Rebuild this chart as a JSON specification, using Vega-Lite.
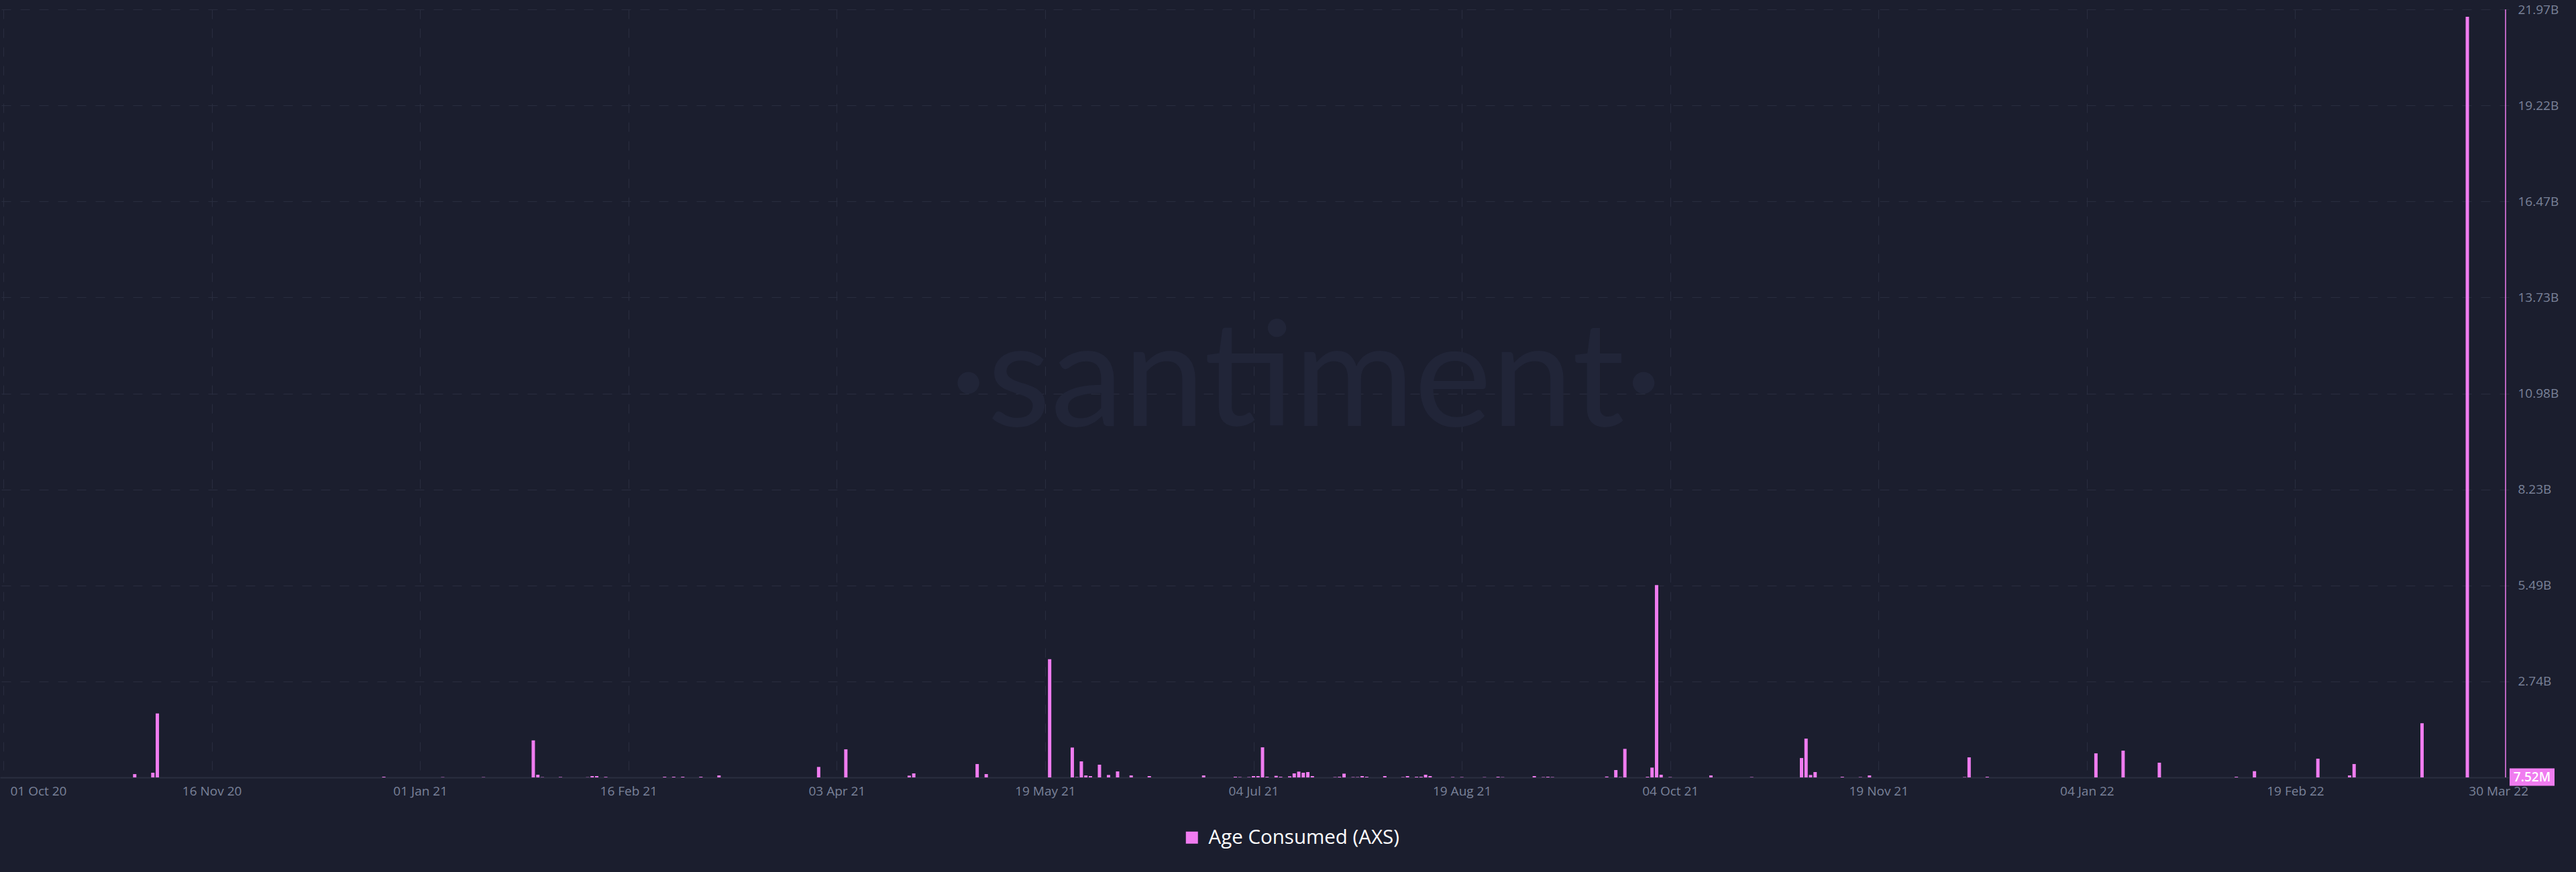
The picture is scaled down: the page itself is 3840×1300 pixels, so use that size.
{
  "$schema": "https://vega.github.io/schema/vega-lite/v6.json",
  "width": 3740,
  "height": 1145,
  "autosize": {"type": "none"},
  "padding": {"left": 0, "top": 14, "right": 100, "bottom": 141},
  "background": "#1b1e2e",
  "config": {"view": {"stroke": null}, "font": "Open Sans"},
  "datasets": {
    "bars": [
      {"date": "2020-10-30", "value": 95000000},
      {"date": "2020-11-03", "value": 134000000},
      {"date": "2020-11-04", "value": 1830000000},
      {"date": "2020-12-24", "value": 20000000},
      {"date": "2021-01-06", "value": 8000000},
      {"date": "2021-01-15", "value": 8000000},
      {"date": "2021-01-26", "value": 1060000000},
      {"date": "2021-01-27", "value": 77000000},
      {"date": "2021-01-28", "value": 8000000},
      {"date": "2021-02-01", "value": 12000000},
      {"date": "2021-02-07", "value": 6000000},
      {"date": "2021-02-08", "value": 38000000},
      {"date": "2021-02-09", "value": 38000000},
      {"date": "2021-02-11", "value": 15000000},
      {"date": "2021-02-24", "value": 19000000},
      {"date": "2021-02-26", "value": 19000000},
      {"date": "2021-02-28", "value": 19000000},
      {"date": "2021-03-04", "value": 19000000},
      {"date": "2021-03-08", "value": 57000000},
      {"date": "2021-03-30", "value": 300000000},
      {"date": "2021-04-05", "value": 804000000},
      {"date": "2021-04-19", "value": 51000000},
      {"date": "2021-04-20", "value": 115000000},
      {"date": "2021-05-04", "value": 383000000},
      {"date": "2021-05-06", "value": 96000000},
      {"date": "2021-05-20", "value": 3380000000},
      {"date": "2021-05-25", "value": 855000000},
      {"date": "2021-05-26", "value": 10000000},
      {"date": "2021-05-27", "value": 459000000},
      {"date": "2021-05-28", "value": 57000000},
      {"date": "2021-05-29", "value": 38000000},
      {"date": "2021-05-31", "value": 364000000},
      {"date": "2021-06-02", "value": 70000000},
      {"date": "2021-06-04", "value": 172000000},
      {"date": "2021-06-07", "value": 57000000},
      {"date": "2021-06-11", "value": 38000000},
      {"date": "2021-06-23", "value": 57000000},
      {"date": "2021-06-30", "value": 19000000},
      {"date": "2021-07-01", "value": 10000000},
      {"date": "2021-07-03", "value": 10000000},
      {"date": "2021-07-04", "value": 38000000},
      {"date": "2021-07-05", "value": 38000000},
      {"date": "2021-07-06", "value": 861000000},
      {"date": "2021-07-07", "value": 19000000},
      {"date": "2021-07-09", "value": 45000000},
      {"date": "2021-07-10", "value": 19000000},
      {"date": "2021-07-12", "value": 32000000},
      {"date": "2021-07-13", "value": 115000000},
      {"date": "2021-07-14", "value": 166000000},
      {"date": "2021-07-15", "value": 134000000},
      {"date": "2021-07-16", "value": 153000000},
      {"date": "2021-07-17", "value": 38000000},
      {"date": "2021-07-22", "value": 10000000},
      {"date": "2021-07-23", "value": 19000000},
      {"date": "2021-07-24", "value": 108000000},
      {"date": "2021-07-26", "value": 10000000},
      {"date": "2021-07-27", "value": 10000000},
      {"date": "2021-07-28", "value": 38000000},
      {"date": "2021-07-29", "value": 19000000},
      {"date": "2021-08-02", "value": 38000000},
      {"date": "2021-08-06", "value": 10000000},
      {"date": "2021-08-07", "value": 38000000},
      {"date": "2021-08-09", "value": 19000000},
      {"date": "2021-08-10", "value": 19000000},
      {"date": "2021-08-11", "value": 77000000},
      {"date": "2021-08-12", "value": 38000000},
      {"date": "2021-08-17", "value": 10000000},
      {"date": "2021-08-19", "value": 10000000},
      {"date": "2021-08-24", "value": 8000000},
      {"date": "2021-08-27", "value": 19000000},
      {"date": "2021-08-28", "value": 8000000},
      {"date": "2021-09-04", "value": 38000000},
      {"date": "2021-09-06", "value": 10000000},
      {"date": "2021-09-07", "value": 19000000},
      {"date": "2021-09-08", "value": 10000000},
      {"date": "2021-09-20", "value": 25000000},
      {"date": "2021-09-22", "value": 211000000},
      {"date": "2021-09-23", "value": 10000000},
      {"date": "2021-09-24", "value": 817000000},
      {"date": "2021-09-29", "value": 19000000},
      {"date": "2021-09-30", "value": 281000000},
      {"date": "2021-10-01", "value": 5500000000},
      {"date": "2021-10-02", "value": 77000000},
      {"date": "2021-10-04", "value": 10000000},
      {"date": "2021-10-13", "value": 57000000},
      {"date": "2021-10-22", "value": 10000000},
      {"date": "2021-11-02", "value": 555000000},
      {"date": "2021-11-03", "value": 1110000000},
      {"date": "2021-11-04", "value": 70000000},
      {"date": "2021-11-05", "value": 153000000},
      {"date": "2021-11-11", "value": 19000000},
      {"date": "2021-11-15", "value": 10000000},
      {"date": "2021-11-17", "value": 57000000},
      {"date": "2021-12-08", "value": 10000000},
      {"date": "2021-12-09", "value": 574000000},
      {"date": "2021-12-13", "value": 19000000},
      {"date": "2022-01-06", "value": 689000000},
      {"date": "2022-01-12", "value": 766000000},
      {"date": "2022-01-20", "value": 421000000},
      {"date": "2022-02-06", "value": 19000000},
      {"date": "2022-02-10", "value": 179000000},
      {"date": "2022-02-24", "value": 536000000},
      {"date": "2022-03-03", "value": 57000000},
      {"date": "2022-03-04", "value": 383000000},
      {"date": "2022-03-19", "value": 1550000000},
      {"date": "2022-03-29", "value": 21760000000}
    ],
    "latest": [
      {"date": "2022-04-06T10:30:00Z", "value": 7520000}
    ]
  },
  "layer": [
    {
      "data": {"name": "bars"},
      "mark": {"type": "bar", "width": 5},
      "encoding": {
        "x": {
          "field": "date",
          "type": "temporal",
          "title": null,
          "scale": {
            "type": "utc",
            "nice": false,
            "domain": [
              {"year": 2020, "month": 10, "date": 1, "utc": true},
              {"year": 2022, "month": 4, "date": 6, "hours": 10, "minutes": 30, "utc": true}
            ]
          },
          "axis": {
            "values": [
              {"year": 2020, "month": 10, "date": 1, "utc": true},
              {"year": 2020, "month": 11, "date": 16, "utc": true},
              {"year": 2021, "month": 1, "date": 1, "utc": true},
              {"year": 2021, "month": 2, "date": 16, "utc": true},
              {"year": 2021, "month": 4, "date": 3, "utc": true},
              {"year": 2021, "month": 5, "date": 19, "utc": true},
              {"year": 2021, "month": 7, "date": 4, "utc": true},
              {"year": 2021, "month": 8, "date": 19, "utc": true},
              {"year": 2021, "month": 10, "date": 4, "utc": true},
              {"year": 2021, "month": 11, "date": 19, "utc": true},
              {"year": 2022, "month": 1, "date": 4, "utc": true},
              {"year": 2022, "month": 2, "date": 19, "utc": true},
              {"year": 2022, "month": 3, "date": 30, "utc": true}
            ],
            "labelExpr": "utcFormat(datum.value, '%d %b %y')",
            "grid": true,
            "gridColor": "#292d3f",
            "gridDash": [14, 14],
            "gridWidth": 1,
            "gridOpacity": {"condition": {"test": "datum.value > utc(2022,2,1)", "value": 0}, "value": 1},
            "ticks": false,
            "tickSize": 0,
            "domain": true,
            "domainColor": "#2a2e40",
            "domainWidth": 2,
            "labelColor": "#7a8299",
            "labelFont": "Open Sans",
            "labelFontSize": 19,
            "labelPadding": 20,
            "labelBaseline": "middle",
            "labelAlign": {"condition": {"test": "datum.value < utc(2020,9,15) || datum.value > utc(2022,2,1)", "value": "left"}, "value": "center"},
            "labelOffset": {"condition": [{"test": "datum.value < utc(2020,9,15)", "value": 10}, {"test": "datum.value > utc(2022,2,1)", "value": -5}], "value": 0},
            "labelOverlap": false,
            "labelFlush": false,
            "labelBound": false
          }
        },
        "y": {
          "field": "value",
          "type": "quantitative",
          "title": null,
          "scale": {"domain": [0, 21970000000], "nice": false, "zero": true},
          "axis": {
            "orient": "right",
            "values": [2746250000, 5492500000, 8238750000, 10985000000, 13731250000, 16477500000, 19223750000, 21970000000],
            "labelExpr": "format(floor(datum.value/10000000)/100, '.2f') + 'B'",
            "grid": true,
            "gridColor": "#292d3f",
            "gridDash": [14, 14],
            "gridWidth": 1,
            "domain": false,
            "ticks": false,
            "tickSize": 0,
            "labelColor": "#7a8299",
            "labelFont": "Open Sans",
            "labelFontSize": 19,
            "labelPadding": 13,
            "labelBaseline": "middle",
            "labelAlign": "left",
            "labelFlush": false,
            "labelOverlap": false,
            "labelBound": false
          }
        },
        "color": {
          "datum": "Age Consumed (AXS)",
          "scale": {"range": ["#f07cf0"]},
          "legend": {
            "title": null,
            "orient": "none",
            "legendX": 1762,
            "legendY": 1220,
            "padding": 0,
            "symbolType": "square",
            "symbolSize": 324,
            "symbolStrokeWidth": 0,
            "symbolOpacity": 1,
            "labelFont": "Open Sans",
            "labelFontSize": 29.5,
            "labelColor": "#ffffff",
            "labelOffset": 10,
            "labelLimit": 0
          }
        }
      }
    },
    {
      "data": {"name": "latest"},
      "mark": {"type": "rule", "color": "#f07cf0", "strokeWidth": 1.5},
      "encoding": {
        "x": {"field": "date", "type": "temporal", "title": null}
      }
    },
    {
      "data": {"name": "latest"},
      "mark": {"type": "point", "shape": "M-1,-0.388H1V0.388H-1Z", "size": 4489, "filled": true, "color": "#f07cf0", "opacity": 1, "xOffset": 39.5},
      "encoding": {
        "x": {"field": "date", "type": "temporal", "title": null},
        "y": {"field": "value", "type": "quantitative", "title": null}
      }
    },
    {
      "data": {"name": "latest"},
      "mark": {"type": "text", "color": "#ffffff", "font": "Open Sans", "fontSize": 19, "fontWeight": 600, "align": "center", "baseline": "middle", "xOffset": 39.5},
      "encoding": {
        "x": {"field": "date", "type": "temporal", "title": null},
        "y": {"field": "value", "type": "quantitative", "title": null},
        "text": {"field": "value", "type": "quantitative", "format": ".3s"}
      }
    },
    {
      "data": {"values": [{"label": "·santiment·"}]},
      "mark": {"type": "text", "font": "Lato", "fontSize": 218, "color": "#212538", "align": "center", "baseline": "alphabetic"},
      "encoding": {
        "x": {"datum": {"year": 2021, "month": 7, "date": 15, "hours": 14, "utc": true}, "type": "temporal"},
        "y": {"datum": 10050000000, "type": "quantitative"},
        "text": {"field": "label"}
      }
    }
  ]
}
